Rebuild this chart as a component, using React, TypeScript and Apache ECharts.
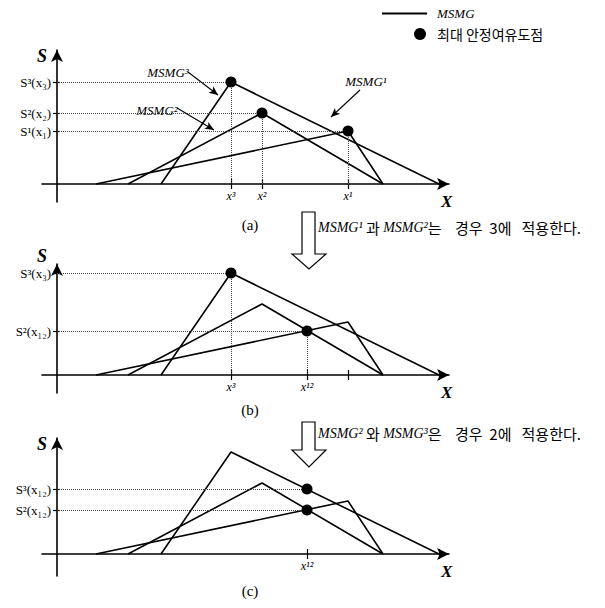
import React, { useEffect, useRef } from 'react';
import * as echarts from 'echarts';

const SERIF = '"Liberation Serif", "Times New Roman", "DejaVu Serif", serif';
const KR = '"Noto Sans CJK KR", "Noto Sans", sans-serif';

// MSMG curves: [x, S] (same curves in all three panels)
const msmg1 = [[39, 0], [291, 53], [326, 0]];
const msmg2 = [[71, 0], [205, 71], [326, 0]];
const msmg3 = [[104, 0], [174, 102], [382, 0]];

// maximum stability-margin points for each panel
const dotsA = [[174, 102], [205, 71], [291, 53]];
const dotsB = [[174, 102], [250, 44]];
const dotsC = [[250, 65], [250, 44]];
const verticalGuides = [true, true, false];

// axis ticks / labels
const xTickValues = [[174, 205, 291, 382], [174, 250, 291, 382], [250, 382]];
const xTickTexts = [['x³', 'x²', 'x¹', ''], ['x³', 'x¹²', '', ''], ['x¹²', '']];
const yTickValues = [[102, 71, 53], [102, 44], [65, 44]];
const yTickTexts = [
  ['S³(x₃)', 'S²(x₂)', 'S¹(x₁)'],
  ['S³(x₃)', 'S²(x₁₂)'],
  ['S³(x₁₂)', 'S²(x₁₂)'],
];
const captions = ['(a)', '(b)', '(c)'];

// annotations in panel (a)
const annotTexts = ['MSMG³', 'MSMG²', 'MSMG¹'];
const annotTextAt = [[111, 112], [100, 74], [309, 103]];
const annotArrowFrom = [[131, 112], [120, 76], [303, 94]];
const annotArrowTo = [[161, 89], [157, 54], [274, 67]];
const annotCurve = [0.4, 0.4, -0.5];

const notes = [
  ['MSMG¹', ' 과 ', 'MSMG²', '는    경우  3에   적용한다.'],
  ['MSMG²', ' 와 ', 'MSMG³', '은    경우  2에   적용한다.'],
];

// layout (pixels / axis ranges)
const GRID_LEFT = 42;
const GRID_WIDTH = 407;
const X_MIN = -15;
const X_MAX = 392;
const panels = [
  { top: 50, height: 152, yMin: -18, yMax: 134, sGap: -6, captionY: 212, noteY: 227, arrowTop: 212, arrowBase: 254, arrowTip: 269 },
  { top: 264, height: 129, yMin: -18, yMax: 111, sGap: 8, captionY: 397, noteY: 433, arrowTop: 422, arrowBase: 450, arrowTip: 467 },
  { top: 438, height: 138, yMin: -22, yMax: 116, sGap: -6, captionY: 578 },
];

const BLACK = '#000';

export default function App() {
  const ref = useRef<HTMLDivElement>(null);
  useEffect(() => {
    if (!ref.current) return;
    const chart = echarts.init(ref.current, undefined, { renderer: 'svg' });
    const dotsAll = [dotsA, dotsB, dotsC];

    const grid: any[] = [];
    const xAxis: any[] = [];
    const yAxis: any[] = [];
    const series: any[] = [];
    const title: any[] = [];

    panels.forEach((p, i) => {
      grid.push({ left: GRID_LEFT, width: GRID_WIDTH, top: p.top, height: p.height, containLabel: false, outerBoundsMode: 'none' });
      const xLabelMap: Record<number, string> = {};
      xTickValues[i].forEach((v, k) => (xLabelMap[v] = xTickTexts[i][k]));
      const yLabelMap: Record<number, string> = {};
      yTickValues[i].forEach((v, k) => (yLabelMap[v] = yTickTexts[i][k]));
      const xLabelVals = xTickValues[i].filter((v, k) => xTickTexts[i][k] !== '');
      // place the axes where the other axis reads zero
      const xOffset = -((0 - p.yMin) * p.height) / (p.yMax - p.yMin);
      const yOffset = -((0 - X_MIN) * GRID_WIDTH) / (X_MAX - X_MIN);

      xAxis.push({
        type: 'value', gridIndex: i, min: X_MIN, max: X_MAX, position: 'bottom', offset: xOffset,
        axisLine: { show: true, onZero: false, symbol: ['none', 'arrow'], symbolSize: [9, 12], lineStyle: { color: BLACK, width: 1.6 } },
        axisTick: { show: true, inside: false, length: 5, customValues: xTickValues[i], lineStyle: { color: BLACK, width: 1.2 } },
        axisLabel: {
          show: true, customValues: xLabelVals, formatter: (v: number) => xLabelMap[v] ?? '', margin: 6,
          fontFamily: SERIF, fontStyle: 'italic', fontSize: 12, color: BLACK,
        },
        splitLine: { show: false },
        name: 'X', nameLocation: 'end', nameGap: -8,
        nameTextStyle: { fontFamily: SERIF, fontStyle: 'italic', fontWeight: 'bold', fontSize: 17, color: BLACK, verticalAlign: 'top', padding: [9, 0, 0, 0] },
      });
      xAxis.push({
        type: 'value', gridIndex: i, min: X_MIN, max: X_MAX, position: 'bottom', offset: xOffset,
        axisLine: { show: false, onZero: false },
        axisTick: { show: true, inside: true, length: 5, customValues: xTickValues[i], lineStyle: { color: BLACK, width: 1.2 } },
        axisLabel: { show: false },
        splitLine: { show: false },
      });
      yAxis.push({
        type: 'value', gridIndex: i, min: p.yMin, max: p.yMax, position: 'left', offset: yOffset,
        axisLine: { show: true, onZero: false, symbol: ['none', 'arrow'], symbolSize: [9, 12], lineStyle: { color: BLACK, width: 1.6 } },
        axisTick: { show: true, inside: false, length: 4, customValues: yTickValues[i], lineStyle: { color: BLACK, width: 1.2 } },
        axisLabel: {
          show: true, customValues: yTickValues[i], formatter: (v: number) => yLabelMap[v] ?? '', margin: 6,
          fontFamily: SERIF, fontSize: 13, color: BLACK,
        },
        splitLine: { show: false },
        name: 'S', nameLocation: 'end', nameGap: p.sGap,
        nameTextStyle: { fontFamily: SERIF, fontStyle: 'italic', fontWeight: 'bold', fontSize: 18, color: BLACK, align: 'right', verticalAlign: 'middle', padding: [0, 10, 0, 0] },
      });
      yAxis.push({
        type: 'value', gridIndex: i, min: p.yMin, max: p.yMax, position: 'left', offset: yOffset,
        axisLine: { show: false, onZero: false },
        axisTick: { show: true, inside: true, length: 3, customValues: yTickValues[i], lineStyle: { color: BLACK, width: 1.2 } },
        axisLabel: { show: false },
        splitLine: { show: false },
      });

      [msmg1, msmg2, msmg3].forEach((d) => {
        series.push({
          type: 'line', name: 'MSMG', xAxisIndex: 2 * i, yAxisIndex: 2 * i, data: d,
          symbol: 'none', silent: true, color: BLACK,
          lineStyle: { color: BLACK, width: 1.6 },
        });
      });

      const dots = dotsAll[i];
      const guides: any[] = [];
      dots.forEach(([x, y]) => {
        guides.push([{ coord: [0, y] }, { coord: [x, y] }]);
        if (verticalGuides[i]) guides.push([{ coord: [x, y] }, { coord: [x, 0] }]);
      });
      series.push({
        type: 'scatter', name: '최대 안정여유도점', xAxisIndex: 2 * i, yAxisIndex: 2 * i, data: dots,
        symbol: 'circle', symbolSize: 11, itemStyle: { color: BLACK, opacity: 1 }, z: 5, silent: true,
        markLine: {
          silent: true, symbol: ['none', 'none'], label: { show: false },
          lineStyle: { type: 'dotted', color: '#444', width: 1 },
          emphasis: { disabled: true },
          data: guides,
        },
      });

      title.push({
        text: captions[i], left: 245, top: p.captionY, textAlign: 'center',
        textStyle: { fontFamily: SERIF, fontSize: 15, fontWeight: 'normal', color: BLACK },
      });
    });

    // annotations (panel a)
    series.push({
      type: 'scatter', name: 'annotations', xAxisIndex: 0, yAxisIndex: 0, data: [], silent: true,
      markLine: {
        silent: true, symbol: ['none', 'arrow'], symbolSize: [6, 9], label: { show: false },
        emphasis: { disabled: true },
        data: annotArrowFrom.map((f, k) => [
          { coord: f, lineStyle: { type: 'solid', color: BLACK, width: 1.1, curveness: annotCurve[k] } },
          { coord: annotArrowTo[k] },
        ]),
      },
      markPoint: {
        silent: true, symbol: 'circle', symbolSize: 0,
        label: { show: true, position: 'inside', formatter: '{b}', fontFamily: SERIF, fontStyle: 'italic', fontSize: 13, color: BLACK },
        data: annotTexts.map((t, k) => ({ name: t, coord: annotTextAt[k] })),
      },
    });

    const graphic: any[] = [];
    [panels[0], panels[1]].forEach((p: any, k) => {
      const sx0 = 302, sx1 = 315, hx0 = 292, hx1 = 326, cx = 309;
      graphic.push({
        type: 'polygon', silent: true,
        shape: { points: [[sx0, p.arrowTop], [sx1, p.arrowTop], [sx1, p.arrowBase], [hx1, p.arrowBase], [cx, p.arrowTip], [hx0, p.arrowBase], [sx0, p.arrowBase]] },
        style: { fill: '#fff', stroke: BLACK, lineWidth: 1.2 },
      });
      const n = notes[k];
      graphic.push({
        type: 'text', silent: true, x: 318, y: p.noteY,
        style: {
          text: `{m|${n[0]}}{k|${n[1]}}{m|${n[2]}}{k|${n[3]}}`,
          verticalAlign: 'middle',
          rich: {
            m: { fontFamily: SERIF, fontStyle: 'italic', fontSize: 14, fill: BLACK },
            k: { fontFamily: KR, fontSize: 15, fill: BLACK },
          },
        },
      });
    });

    chart.setOption({
      animation: false,
      backgroundColor: '#fff',
      color: [BLACK],
      title,
      legend: [
        {
          data: [{ name: 'MSMG', icon: 'rect' }], left: 377, top: 2, itemWidth: 45, itemHeight: 2,
          selectedMode: false, itemStyle: { color: BLACK, borderWidth: 0 },
          textStyle: { fontFamily: SERIF, fontStyle: 'italic', fontSize: 13, color: BLACK, padding: [0, 0, 0, 5] },
        },
        {
          data: [{ name: '최대 안정여유도점', icon: 'circle' }], left: 409, top: 22, itemWidth: 12, itemHeight: 12,
          selectedMode: false, itemStyle: { color: BLACK, borderWidth: 0 },
          textStyle: { fontFamily: KR, fontSize: 14, color: BLACK, padding: [0, 0, 0, 6] },
        },
      ],
      grid, xAxis, yAxis, series, graphic,
    });
    return () => chart.dispose();
  }, []);
  return <div ref={ref} style={{ position: 'fixed', left: 0, top: 0, width: 605, height: 608, background: '#fff' }} />;
}
